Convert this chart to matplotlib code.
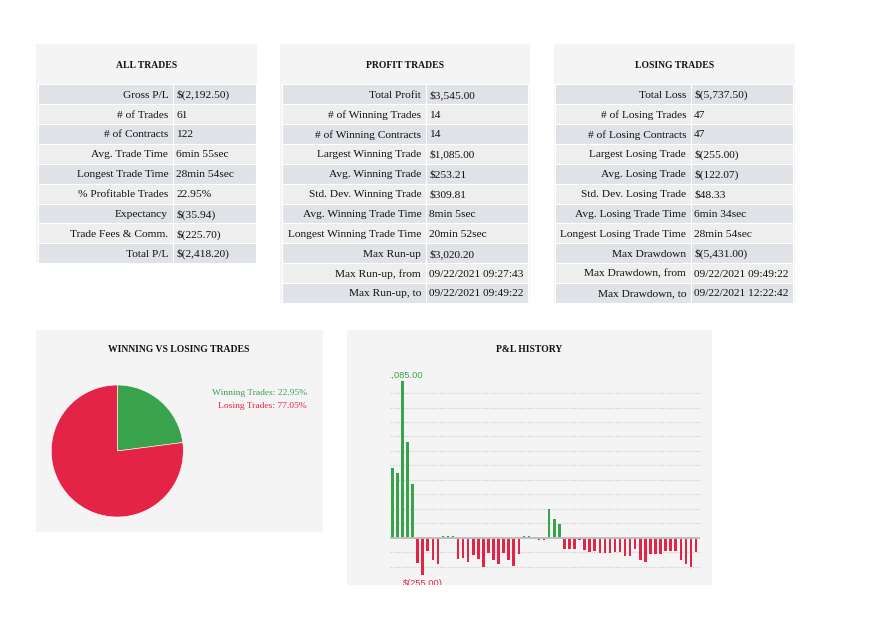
import matplotlib.pyplot as plt
from matplotlib.patches import Rectangle

W, H = 895, 633

# table contents
all_labels = ["Gross P/L", "# of Trades", "# of Contracts", "Avg. Trade Time",
              "Longest Trade Time", "% Profitable Trades", "Expectancy",
              "Trade Fees & Comm.", "Total P/L"]
all_values = ["$(2,192.50)", "61", "122", "6min 55sec", "28min 54sec",
              "22.95%", "$(35.94)", "$(225.70)", "$(2,418.20)"]

profit_labels = ["Total Profit", "# of Winning Trades", "# of Winning Contracts",
                 "Largest Winning Trade", "Avg. Winning Trade",
                 "Std. Dev. Winning Trade", "Avg. Winning Trade Time",
                 "Longest Winning Trade Time", "Max Run-up", "Max Run-up, from",
                 "Max Run-up, to"]
profit_values = ["$3,545.00", "14", "14", "$1,085.00", "$253.21", "$309.81",
                 "8min 5sec", "20min 52sec", "$3,020.20", "09/22/2021 09:27:43",
                 "09/22/2021 09:49:22"]

losing_labels = ["Total Loss", "# of Losing Trades", "# of Losing Contracts",
                 "Largest Losing Trade", "Avg. Losing Trade",
                 "Std. Dev. Losing Trade", "Avg. Losing Trade Time",
                 "Longest Losing Trade Time", "Max Drawdown", "Max Drawdown, from",
                 "Max Drawdown, to"]
losing_values = ["$(5,737.50)", "47", "47", "$(255.00)", "$(122.07)", "$48.33",
                 "6min 34sec", "28min 54sec", "$(5,431.00)", "09/22/2021 09:49:22",
                 "09/22/2021 12:22:42"]

# pie
pie_labels = ["Winning Trades", "Losing Trades"]
pie_pct = [22.95, 77.05]

# P&L per trade (estimated from the bars)
pnl = [480, 447, 1085, 661, 371,
       -175, -255, -90, -152, -180,
       14, 14, 14,
       -145, -140, -164, -120, -145, -203, -108, -150, -184, -104, -150, -194, -115,
       14, 14, 5,
       -18, -18,
       198, 129, 97,
       -78, -78, -78, -14, -85, -97, -90, -104, -104, -104, -99, -99, -127, -127,
       -74, -150, -164, -111, -111, -111, -90, -90, -90, -154, -184, -205, -101]

GREEN = '#38a34a'
RED = '#e32447'
PANEL = '#f4f4f4'
DARK_ROW = '#dfe2e6'
LIGHT_ROW = '#eeeeee'
SERIF = 'Liberation Serif'
SANS = 'Liberation Sans'


def fig_rect(x0, y0, x1, y1):
    return [x0 / W, 1 - y1 / H, (x1 - x0) / W, (y1 - y0) / H]


fig = plt.figure(figsize=(W / 100, H / 100), dpi=100)
bg = fig.add_axes([0, 0, 1, 1])
bg.set_xlim(0, W)
bg.set_ylim(H, 0)
bg.axis('off')


def panel(x0, y0, x1, y1):
    bg.add_patch(Rectangle((x0, y0), x1 - x0, y1 - y0, fc=PANEL, ec='none'))


def table(px0, px1, tx0, tx1, xdiv, title, labels, values):
    row_h = 19.87
    top = 84.3
    bottom = top + row_h * len(labels)
    panel(px0, 44, px1, bottom)
    bg.text((px0 + px1) / 2, 65, title, ha='center', va='center',
            family=SERIF, weight='bold', fontsize=6.9, color='#111111')
    for i, (lab, val) in enumerate(zip(labels, values)):
        y = top + i * row_h
        c = DARK_ROW if i % 2 == 0 else LIGHT_ROW
        bg.add_patch(Rectangle((tx0, y), xdiv - tx0, row_h, fc=c, ec='white', lw=0.8))
        bg.add_patch(Rectangle((xdiv, y), tx1 - xdiv, row_h, fc=c, ec='white', lw=0.8))
        bg.text(xdiv - 4.5, y + row_h / 2, lab, ha='right', va='center_baseline',
                family=SERIF, fontsize=8.2, color='#111111')
        bg.text(xdiv + 3.5, y + row_h / 2, val, ha='left', va='center_baseline',
                family=SERIF, fontsize=8.2, color='#111111')


table(36, 257, 38, 255.7, 172.7, "ALL TRADES", all_labels, all_values)
table(280, 530, 282, 528, 425.7, "PROFIT TRADES", profit_labels, profit_values)
table(554, 795, 555.3, 793, 690.7, "LOSING TRADES", losing_labels, losing_values)

# pie panel
panel(36, 330, 323, 532)
bg.text(179, 350, "WINNING VS LOSING TRADES", ha='center', va='center',
        family=SERIF, weight='bold', fontsize=6.9, color='#111111')
bg.text(307, 393, f"{pie_labels[0]}: {pie_pct[0]:.2f}%", ha='right', va='center',
        family=SERIF, fontsize=6.8, color=GREEN)
bg.text(307, 406, f"{pie_labels[1]}: {pie_pct[1]:.2f}%", ha='right', va='center',
        family=SERIF, fontsize=6.8, color=RED)

cx, cy, r = 117.3, 451, 66
pax = fig.add_axes(fig_rect(cx - r, cy - r, cx + r, cy + r))
pax.pie(pie_pct, colors=[GREEN, RED], startangle=90, counterclock=False,
        wedgeprops=dict(edgecolor='white', linewidth=0.4))
pax.set_xlim(-1, 1)
pax.set_ylim(-1, 1)
pax.axis('off')

# P&L history panel
panel(347, 330, 712, 585)
bg.text(529.5, 350, "P&L HISTORY", ha='center', va='center',
        family=SERIF, weight='bold', fontsize=6.9, color='#111111')

bax = fig.add_axes(fig_rect(390, 365, 700, 585))
bax.set_facecolor('none')
x = list(range(len(pnl)))
colors = [GREEN if v >= 0 else RED for v in pnl]
for g in [-200, -100] + list(range(100, 1001, 100)):
    bax.axhline(g, color='#cfcfcf', lw=0.9, ls=(0, (1, 1.2)), zorder=1)
bax.bar(x, pnl, width=0.5, color=colors, zorder=2)
bax.axhline(0, color='#bdbdbd', lw=1.4, zorder=3)
bax.set_xlim(-0.45, 60.8)
bax.set_ylim(-326, 1194)
bax.axis('off')

imax = pnl.index(max(pnl))
imin = pnl.index(min(pnl))
bax.annotate(f"${max(pnl):,.2f}", (imax, max(pnl)), xytext=(0, 1),
             textcoords='offset points', ha='center', va='bottom',
             family=SANS, fontsize=6.7, color=GREEN, annotation_clip=False,
             clip_on=True)
bax.annotate(f"$({-min(pnl):,.2f})", (imin, min(pnl)), xytext=(0, -3),
             textcoords='offset points', ha='center', va='top',
             family=SANS, fontsize=6.7, color=RED, annotation_clip=False,
             clip_on=True)

fig.savefig('out.png', dpi=100)
